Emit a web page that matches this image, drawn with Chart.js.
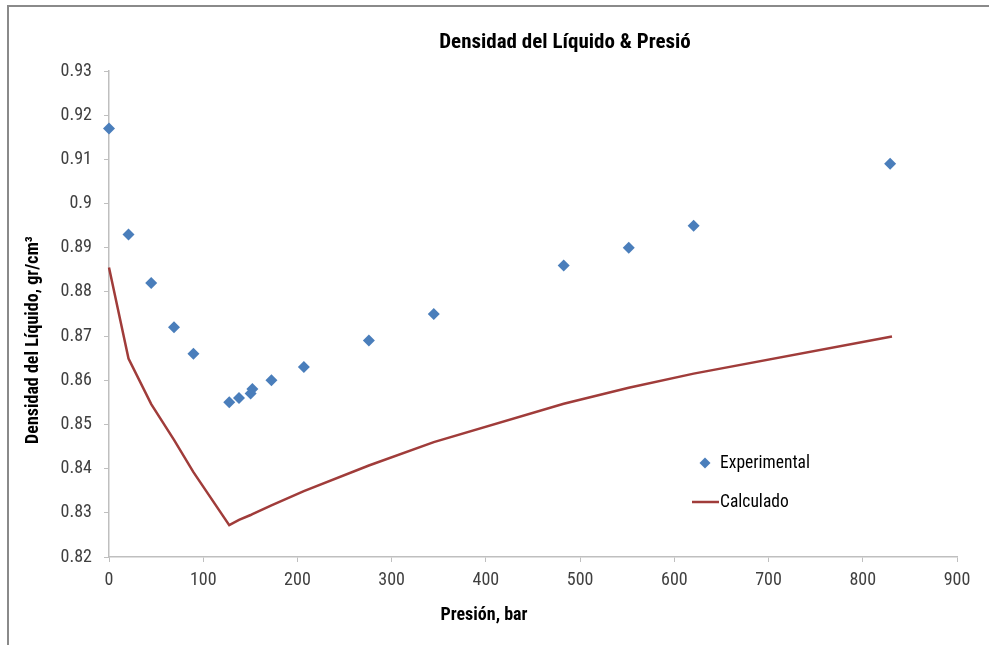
<!DOCTYPE html>
<html>
<head>
<meta charset="utf-8">
<script src="https://cdn.jsdelivr.net/npm/chart.js@4"></script>
<style>
  html, body { margin: 0; padding: 0; background: #fff; }
  #wrap { position: relative; width: 989px; height: 645px; }
  #frame { position: absolute; left: 7px; top: 5px; right: 0; bottom: 0;
           border-top: 2px solid #8a8a8a; border-left: 2px solid #8a8a8a; pointer-events: none; }
  canvas { position: absolute; left: 0; top: 0; }
</style>
</head>
<body>
<div id="wrap">
  <canvas id="c" width="989" height="645"></canvas>
  <div id="frame"></div>
</div>
<script>
// Pressure (bar) and liquid density (gr/cm3)
const presionExp = [0, 20.7, 44.8, 69, 89.6, 127.6, 138, 150.3, 152.2, 172.4, 206.8, 275.8, 344.7, 482.6, 551.6, 620.5, 829];
const densidadExp = [0.917, 0.893, 0.882, 0.872, 0.866, 0.855, 0.856, 0.857, 0.858, 0.860, 0.863, 0.869, 0.875, 0.886, 0.890, 0.895, 0.909];

const presionCalc = [0, 20.7, 44.8, 69, 89.6, 127.6, 138, 150.3, 152.2, 172.4, 206.8, 275.8, 344.7, 482.6, 551.6, 620.5, 831];
const densidadCalc = [0.8855, 0.8649, 0.8546, 0.8465, 0.8392, 0.8272, 0.8284, 0.8295, 0.8297, 0.8317, 0.8349, 0.8407, 0.8460, 0.8547, 0.8583, 0.8615, 0.8699];

const xTicks = [0, 100, 200, 300, 400, 500, 600, 700, 800, 900];
const yTicks = [0.82, 0.83, 0.84, 0.85, 0.86, 0.87, 0.88, 0.89, 0.90, 0.91, 0.92, 0.93];

const seriesNames = ['Experimental', 'Calculado'];
const chartTitle = 'Densidad del Líquido & Presió';
const xTitle = 'Presión, bar';
const yTitle = 'Densidad del Líquido, gr/cm³';

const FONT = '"Liberation Sans Narrow", "Arial Narrow", "Roboto Condensed", "DejaVu Sans Condensed", sans-serif';
const BLUE = '#4a7ebb';
const RED = '#a03c3a';
const AXIS = '#bfbfbf';
const TEXT = '#404040';

const toPts = (xs, ys) => xs.map((x, i) => ({ x: x, y: ys[i] }));

// Title, axis titles and the in-plot legend
const annotations = {
  id: 'annotations',
  afterDraw(chart) {
    const ctx = chart.ctx;
    ctx.save();
    ctx.fillStyle = '#000';
    ctx.textBaseline = 'alphabetic';
    ctx.textAlign = 'center';
    ctx.font = 'bold 21px ' + FONT;
    ctx.fillText(chartTitle, 565, 48);

    ctx.font = 'bold 18px ' + FONT;
    ctx.fillText(xTitle, 484, 620);

    ctx.save();
    ctx.translate(38, 340);
    ctx.rotate(-Math.PI / 2);
    ctx.fillText(yTitle, 0, 0);
    ctx.restore();

    // legend
    ctx.textAlign = 'left';
    ctx.textBaseline = 'middle';
    ctx.font = '17.5px ' + FONT;
    ctx.fillStyle = '#000';
    ctx.fillText(seriesNames[0], 720, 464);
    ctx.fillText(seriesNames[1], 720, 503);

    ctx.fillStyle = BLUE;
    ctx.beginPath();
    const cx = 705, cy = 463, r = 5.5;
    ctx.moveTo(cx, cy - r); ctx.lineTo(cx + r, cy); ctx.lineTo(cx, cy + r); ctx.lineTo(cx - r, cy);
    ctx.closePath();
    ctx.fill();

    ctx.strokeStyle = RED;
    ctx.lineWidth = 2.5;
    ctx.beginPath();
    ctx.moveTo(692, 502); ctx.lineTo(719, 502);
    ctx.stroke();
    ctx.restore();
  }
};

new Chart(document.getElementById('c'), {
  type: 'scatter',
  data: {
    datasets: [
      {
        label: seriesNames[0],
        data: toPts(presionExp, densidadExp),
        pointStyle: 'rectRot',
        pointRadius: 6,
        pointBackgroundColor: BLUE,
        pointBorderColor: BLUE,
        pointBorderWidth: 0,
        showLine: false,
        clip: false,
        order: 1
      },
      {
        label: seriesNames[1],
        data: toPts(presionCalc, densidadCalc),
        showLine: true,
        borderColor: RED,
        borderWidth: 2.5,
        pointRadius: 0,
        tension: 0,
        clip: false,
        order: 2
      }
    ]
  },
  options: {
    responsive: false,
    animation: false,
    devicePixelRatio: 1,
    layout: { padding: { left: 0, right: 32, top: 71, bottom: 0 } },
    plugins: {
      legend: { display: false },
      tooltip: { enabled: false },
      title: { display: false }
    },
    scales: {
      x: {
        type: 'linear',
        min: 0, max: 900,
        afterBuildTicks: s => { s.ticks = xTicks.map(v => ({ value: v })); },
        afterFit: s => { s.height = 88; },
        grid: { drawOnChartArea: false, drawTicks: true, tickLength: 5, color: AXIS, lineWidth: 1 },
        border: { color: AXIS, width: 1.5 },
        ticks: { color: TEXT, padding: 8, font: { family: FONT, size: 18 }, maxRotation: 0 }
      },
      y: {
        type: 'linear',
        min: 0.82, max: 0.93,
        afterBuildTicks: s => { s.ticks = yTicks.map(v => ({ value: v })); },
        afterFit: s => { s.width = 109; },
        grid: { drawOnChartArea: false, drawTicks: true, tickLength: 5, color: AXIS, lineWidth: 1 },
        border: { color: AXIS, width: 1.5 },
        ticks: {
          color: TEXT, padding: 12, font: { family: FONT, size: 18 },
          callback: v => String(Number(v.toFixed(2)))
        }
      }
    }
  },
  plugins: [annotations]
});
</script>
</body>
</html>
